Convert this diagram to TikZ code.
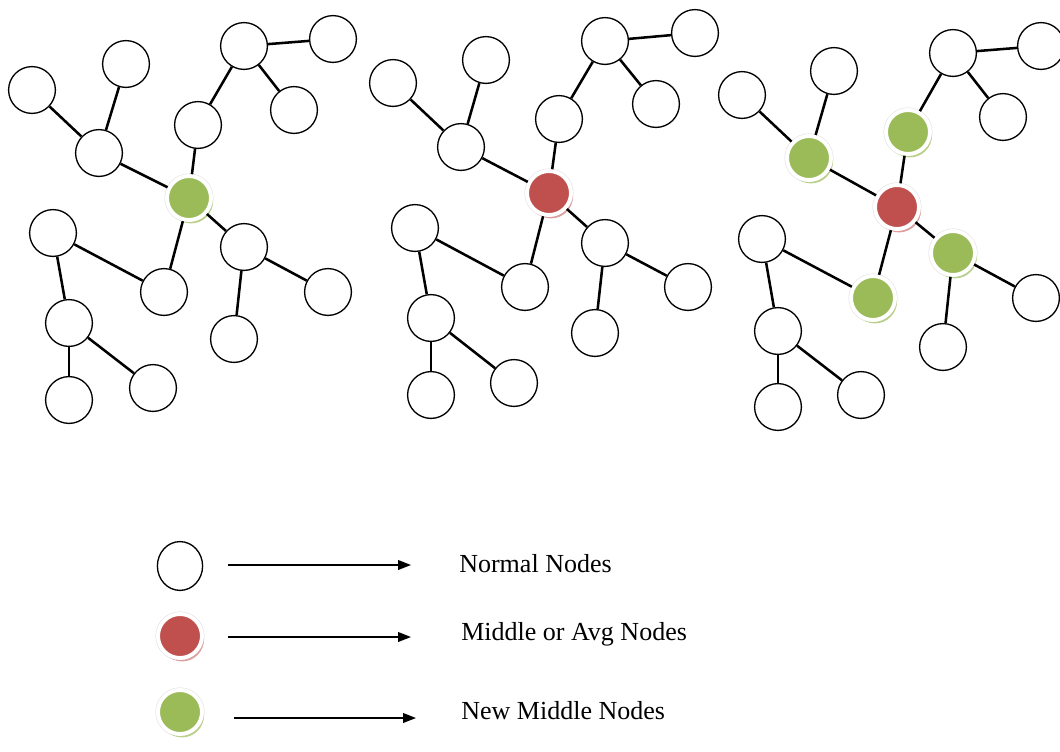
\documentclass[tikz,border=0pt]{standalone}
\usepackage{fontspec}
\setmainfont{Liberation Serif}
\usetikzlibrary{arrows.meta,shadows,shapes.geometric}
\definecolor{gfill}{HTML}{9BBB59}
\definecolor{rfill}{HTML}{C0504D}
\tikzset{
  nnode/.style={circle,draw=black,line width=0.95pt,fill=white,minimum size=1.17cm,inner sep=0pt},
  gnode/.style={circle,fill=gfill,draw=white,line width=2.8pt,minimum size=1.1cm,inner sep=0pt,
    preaction={draw=black!12,line width=3.6pt},
    drop shadow={shadow xshift=0.05cm,shadow yshift=-0.085cm,fill=gfill!70!white,opacity=1}},
  rnode/.style={circle,fill=rfill,draw=white,line width=2.8pt,minimum size=1.1cm,inner sep=0pt,
    preaction={draw=black!12,line width=3.6pt},
    drop shadow={shadow xshift=0.05cm,shadow yshift=-0.085cm,fill=rfill!55!white,opacity=1}},
  tedge/.style={line width=1.8pt,black},
  legarrow/.style={line width=1.1pt,-{Triangle[length=0.32cm,width=0.24cm]}},
  legtext/.style={anchor=base west,inner sep=0pt,font=\fontsize{18.5}{22}\selectfont}
}
\begin{document}
\begin{tikzpicture}[x=0.025cm,y=-0.025cm]
\useasboundingbox (0,0) rectangle (1060,751);
% ---------- graph 1 ----------
\node[nnode] (g1a) at (32,90) {};
\node[nnode] (g1b) at (126,64) {};
\node[nnode] (g1c) at (99,153) {};
\node[nnode] (g1d) at (244,46) {};
\node[nnode] (g1e) at (333,39) {};
\node[nnode] (g1f) at (294,110) {};
\node[nnode] (g1g) at (198,125) {};
\node[gnode] (g1x) at (189,198) {};
\node[nnode] (g1h) at (53,233) {};
\node[nnode] (g1i) at (164,292) {};
\node[nnode] (g1j) at (244,247) {};
\node[nnode] (g1k) at (328,292) {};
\node[nnode] (g1l) at (234,339) {};
\node[nnode] (g1m) at (69,323) {};
\node[nnode] (g1n) at (69,400) {};
\node[nnode] (g1o) at (153,388) {};
% ---------- graph 2 ----------
\node[nnode] (g2a) at (393,83) {};
\node[nnode] (g2b) at (486,60) {};
\node[nnode] (g2c) at (461,147) {};
\node[nnode] (g2d) at (605,41) {};
\node[nnode] (g2e) at (695,33) {};
\node[nnode] (g2f) at (656,104) {};
\node[nnode] (g2g) at (559,119) {};
\node[rnode] (g2x) at (549,193) {};
\node[nnode] (g2h) at (415,228) {};
\node[nnode] (g2i) at (525,287) {};
\node[nnode] (g2j) at (605,243) {};
\node[nnode] (g2k) at (688,287) {};
\node[nnode] (g2l) at (595,333) {};
\node[nnode] (g2m) at (431,318) {};
\node[nnode] (g2n) at (431,395) {};
\node[nnode] (g2o) at (514,383) {};
% ---------- graph 3 ----------
\node[nnode] (g3a) at (742,95) {};
\node[nnode] (g3b) at (834,71) {};
\node[gnode] (g3c) at (809,158) {};
\node[nnode] (g3d) at (953,53) {};
\node[nnode] (g3e) at (1041,46) {};
\node[nnode] (g3f) at (1003,117) {};
\node[gnode] (g3g) at (908,132) {};
\node[rnode] (g3x) at (897,207) {};
\node[nnode] (g3h) at (762,239) {};
\node[gnode] (g3i) at (873,298) {};
\node[gnode] (g3j) at (953,253) {};
\node[nnode] (g3k) at (1036,298) {};
\node[nnode] (g3l) at (943,347) {};
\node[nnode] (g3m) at (778,331) {};
\node[nnode] (g3n) at (778,407) {};
\node[nnode] (g3o) at (861,395) {};
% ---------- edges ----------
\foreach \g in {g1,g2,g3}{
  \draw[tedge] (\g a) -- (\g c);
  \draw[tedge] (\g b) -- (\g c);
  \draw[tedge] (\g c) -- (\g x);
  \draw[tedge] (\g d) -- (\g e);
  \draw[tedge] (\g d) -- (\g f);
  \draw[tedge] (\g d) -- (\g g);
  \draw[tedge] (\g g) -- (\g x);
  \draw[tedge] (\g x) -- (\g i);
  \draw[tedge] (\g x) -- (\g j);
  \draw[tedge] (\g h) -- (\g i);
  \draw[tedge] (\g h) -- (\g m);
  \draw[tedge] (\g m) -- (\g n);
  \draw[tedge] (\g m) -- (\g o);
  \draw[tedge] (\g j) -- (\g k);
  \draw[tedge] (\g j) -- (\g l);
}
% ---------- legend ----------
\node[nnode,ellipse,minimum height=1.22cm,minimum width=1.13cm] (lg1) at (180,566) {};
\node[rnode] (lg2) at (180,636) {};
\node[gnode] (lg3) at (180,712) {};
\coordinate (la1s) at (228,565);
\coordinate (la1e) at (411,565);
\coordinate (la2s) at (228,637);
\coordinate (la2e) at (411,637);
\coordinate (la3s) at (234,718);
\coordinate (la3e) at (416,718);
\draw[legarrow] (la1s) -- (la1e);
\draw[legarrow] (la2s) -- (la2e);
\draw[legarrow] (la3s) -- (la3e);
\node[legtext] (lt1) at (459,572) {Normal Nodes};
\node[legtext] (lt2) at (461,640) {Middle or Avg Nodes};
\node[legtext] (lt3) at (461,719) {New Middle Nodes};
\end{tikzpicture}
\end{document}
